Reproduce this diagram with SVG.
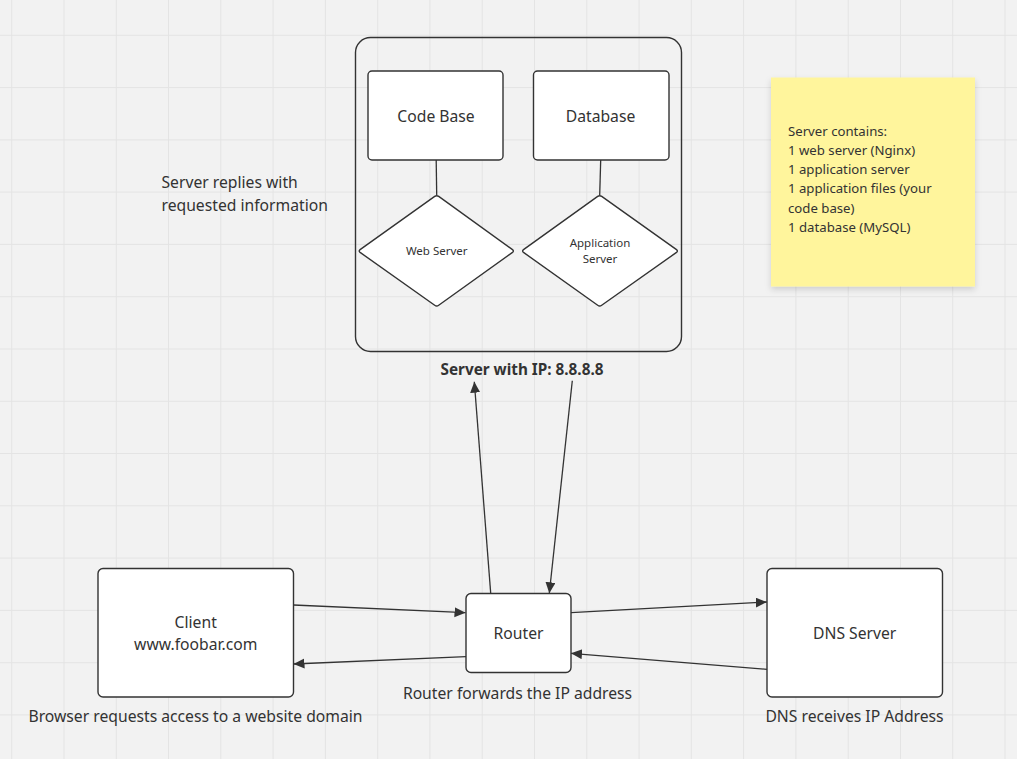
<svg xmlns="http://www.w3.org/2000/svg" width="1017" height="759" viewBox="0 0 1017 759">
<style>
.bg{fill:#f2f2f2}
.grid line{stroke:#e4e4e4;stroke-width:1}
.box{fill:#ffffff;stroke:#333333;stroke-width:1.4}
.frame{fill:none;stroke:#333333;stroke-width:1.4}
.t{font-family:"Noto Sans","Open Sans","DejaVu Sans",sans-serif;fill:#333333}
.c{text-anchor:middle}
.m{font-size:15.7px}
.edge{stroke:#333333;stroke-width:1.3;fill:none}
</style>
<defs>
<marker id="arr" markerUnits="userSpaceOnUse" markerWidth="14" markerHeight="12" refX="11" refY="5" orient="auto">
<path d="M0,0 L11,5 L0,10 Z" fill="#333333"/>
</marker>
<filter id="shadow" x="-20%" y="-20%" width="140%" height="150%">
<feDropShadow dx="0" dy="3" stdDeviation="3" flood-color="#000000" flood-opacity="0.15"/>
</filter>
</defs>
<rect class="bg" x="0" y="0" width="1017" height="759"/>
<g class="grid">
<line x1="11.7" y1="0" x2="11.7" y2="759"/><line x1="64" y1="0" x2="64" y2="759"/><line x1="116.3" y1="0" x2="116.3" y2="759"/><line x1="168.5" y1="0" x2="168.5" y2="759"/><line x1="220.8" y1="0" x2="220.8" y2="759"/><line x1="273.1" y1="0" x2="273.1" y2="759"/><line x1="325.4" y1="0" x2="325.4" y2="759"/><line x1="377.7" y1="0" x2="377.7" y2="759"/><line x1="429.9" y1="0" x2="429.9" y2="759"/><line x1="482.2" y1="0" x2="482.2" y2="759"/><line x1="534.5" y1="0" x2="534.5" y2="759"/><line x1="586.8" y1="0" x2="586.8" y2="759"/><line x1="639.1" y1="0" x2="639.1" y2="759"/><line x1="691.3" y1="0" x2="691.3" y2="759"/><line x1="743.6" y1="0" x2="743.6" y2="759"/><line x1="795.9" y1="0" x2="795.9" y2="759"/><line x1="848.2" y1="0" x2="848.2" y2="759"/><line x1="900.5" y1="0" x2="900.5" y2="759"/><line x1="952.7" y1="0" x2="952.7" y2="759"/><line x1="1005" y1="0" x2="1005" y2="759"/>
<line x1="0" y1="35.3" x2="1017" y2="35.3"/><line x1="0" y1="87.6" x2="1017" y2="87.6"/><line x1="0" y1="139.9" x2="1017" y2="139.9"/><line x1="0" y1="192.1" x2="1017" y2="192.1"/><line x1="0" y1="244.4" x2="1017" y2="244.4"/><line x1="0" y1="296.7" x2="1017" y2="296.7"/><line x1="0" y1="349" x2="1017" y2="349"/><line x1="0" y1="401.3" x2="1017" y2="401.3"/><line x1="0" y1="453.5" x2="1017" y2="453.5"/><line x1="0" y1="505.8" x2="1017" y2="505.8"/><line x1="0" y1="558.1" x2="1017" y2="558.1"/><line x1="0" y1="610.4" x2="1017" y2="610.4"/><line x1="0" y1="662.7" x2="1017" y2="662.7"/><line x1="0" y1="714.9" x2="1017" y2="714.9"/>
</g>

<g id="server">
<rect class="frame" x="355.5" y="37.5" width="326" height="314" rx="15"/>
<text class="t c" x="522" y="374.5" font-size="15.3" font-weight="bold">Server with IP: 8.8.8.8</text>
</g>
<g id="codebase">
<rect class="box" x="368" y="71" width="135" height="89" rx="4"/>
<text class="t c m" x="436" y="121.5">Code Base</text>
</g>
<g id="database">
<rect class="box" x="533.5" y="71" width="135.5" height="89" rx="4"/>
<text class="t c m" x="600.5" y="121.5">Database</text>
</g>
<g id="webserver">
<path class="box" d="M434.7,196.4 Q436.7,195 438.7,196.4 L512.5,249.6 Q514.3,251 512.5,252.4 L438.7,305.3 Q436.7,306.7 434.7,305.3 L360.1,252.4 Q358.3,251 360.1,249.6 Z"/>
<text class="t c" x="436.7" y="255" font-size="11.5">Web Server</text>
</g>
<g id="appserver">
<path class="box" d="M597.7,196.4 Q599.7,195 601.7,196.4 L676.5,249.6 Q678.3,251 676.5,252.4 L601.7,305.3 Q599.7,306.7 597.7,305.3 L523.5,252.4 Q521.7,251 523.5,249.6 Z"/>
<text class="t c" x="600" y="246.7" font-size="11.5">Application</text>
<text class="t c" x="600" y="263.3" font-size="11.5">Server</text>
</g>
<g id="note">
<rect x="771" y="77.5" width="204" height="209" fill="#fff59c" filter="url(#shadow)"/>
<text class="t" font-size="13.2" x="788">
<tspan x="788" y="136">Server contains:</tspan>
<tspan x="788" y="155.2">1 web server (Nginx)</tspan>
<tspan x="788" y="174.3">1 application server</tspan>
<tspan x="788" y="193.4">1 application files (your</tspan>
<tspan x="788" y="212.5">code base)</tspan>
<tspan x="788" y="231.6">1 database (MySQL)</tspan>
</text>
</g>
<g id="reply-label">
<text class="t m" x="161.5" y="188.3">Server replies with</text>
<text class="t m" x="161.5" y="210.7">requested information</text>
</g>
<g id="client">
<rect class="box" x="98" y="568.5" width="195.5" height="128.5" rx="5"/>
<text class="t c m" x="195.7" y="628">Client</text>
<text class="t c m" x="195.7" y="650">www.foobar.com</text>
<text class="t c m" x="195.5" y="721.7">Browser requests access to a website domain</text>
</g>
<g id="router">
<rect class="box" x="466" y="593.5" width="105" height="79" rx="5"/>
<text class="t c m" x="518.5" y="639.3">Router</text>
<text class="t c m" x="517.5" y="699">Router forwards the IP address</text>
</g>
<g id="dns">
<rect class="box" x="767" y="568.5" width="175.5" height="128.5" rx="5"/>
<text class="t c m" x="854.7" y="639.3">DNS Server</text>
<text class="t c m" x="854.5" y="721.7">DNS receives IP Address</text>
</g>
<g id="connectors">
<line class="edge" x1="436.2" y1="160" x2="436.7" y2="195"/>
<line class="edge" x1="600.7" y1="160" x2="599.7" y2="195"/>
<line class="edge" x1="293.5" y1="605" x2="465.5" y2="612.7" marker-end="url(#arr)"/>
<line class="edge" x1="466" y1="656.7" x2="293.5" y2="664" marker-end="url(#arr)"/>
<line class="edge" x1="571" y1="612.7" x2="766.8" y2="602" marker-end="url(#arr)"/>
<line class="edge" x1="767" y1="669.3" x2="571" y2="653.3" marker-end="url(#arr)"/>
<line class="edge" x1="490.7" y1="593.3" x2="474.3" y2="381.7" marker-end="url(#arr)"/>
<line class="edge" x1="572.3" y1="380.7" x2="549.3" y2="593.3" marker-end="url(#arr)"/>
</g>
</svg>
